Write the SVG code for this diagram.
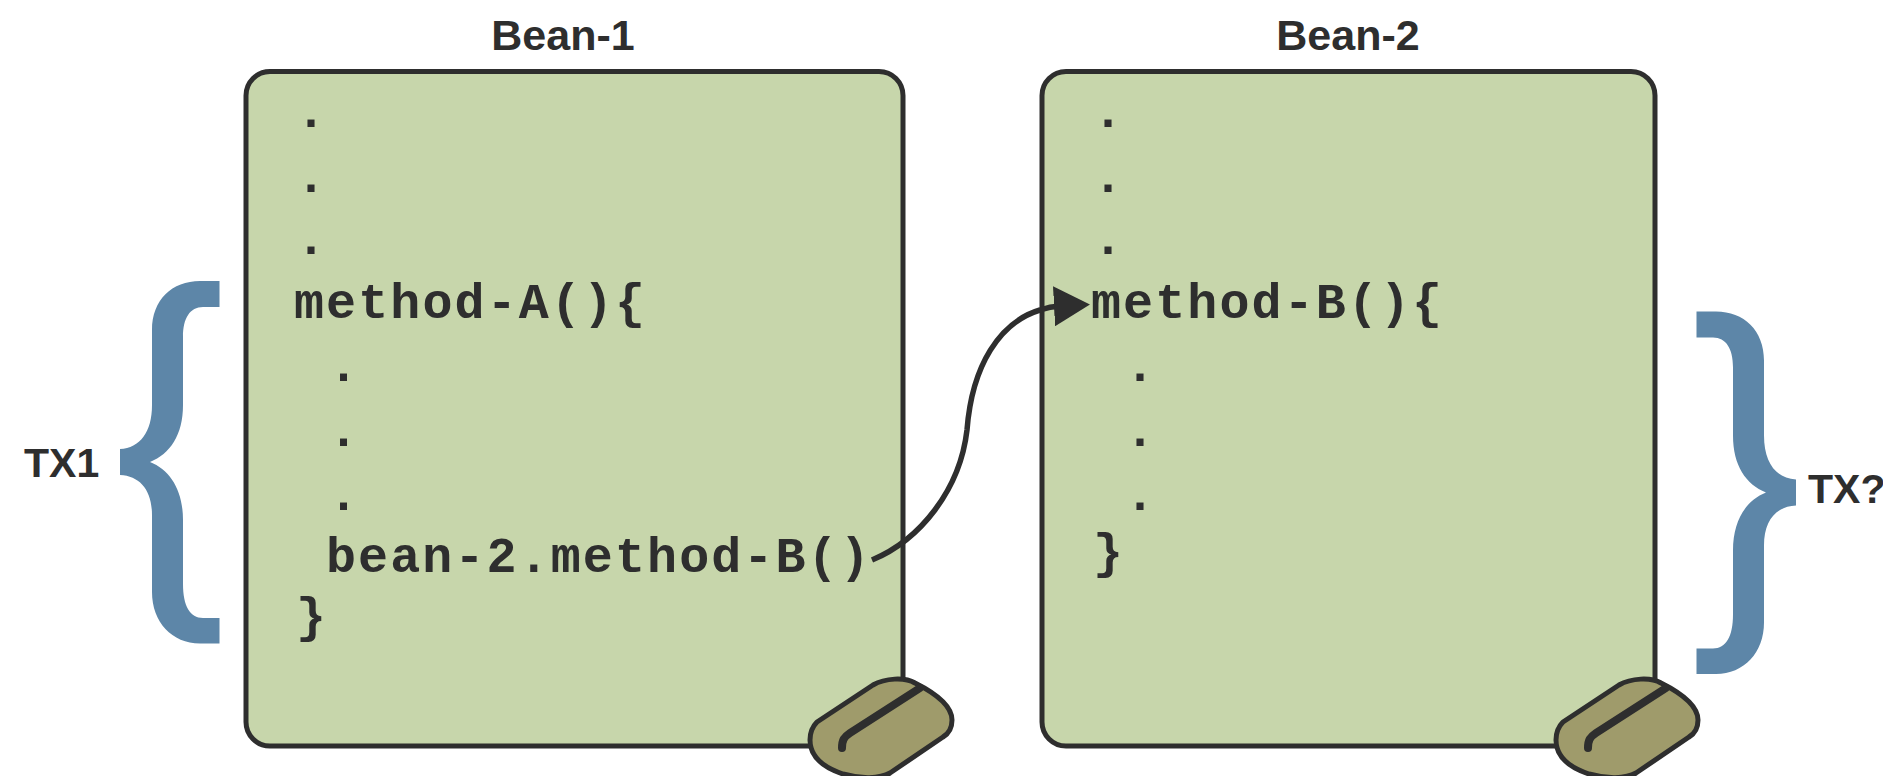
<svg xmlns="http://www.w3.org/2000/svg" width="1883" height="776" viewBox="0 0 1883 776">
<style>
.box{fill:#c7d6ab;stroke:#2e2e2e;stroke-width:5}
.title{font-family:"Liberation Sans",Arial,sans-serif;font-weight:700;font-size:43px;fill:#2e2e2e}
.code{font-family:"Liberation Mono","Courier New",monospace;font-weight:700;font-size:50px;letter-spacing:2.100px;fill:#2e2e2e}
.brace{fill:#5d86a8}
.tab{fill:#9f9b6b;stroke:#2e2e2e;stroke-width:5;stroke-linejoin:round}
.slot{fill:none;stroke:#2e2e2e;stroke-width:8;stroke-linecap:round}
.wire{fill:none;stroke:#2e2e2e;stroke-width:5.500}
</style>
<defs>
<marker id="arrow" markerUnits="userSpaceOnUse" markerWidth="36" markerHeight="40" viewBox="0 0 36 40" refX="6" refY="20" orient="auto">
<polygon points="0,0 36,20 0,40" fill="#2e2e2e"/>
</marker>
<path id="brace-shape" d="M219.500 281H200C172 281 152 300 152 330V405C152 432 140 448 120 449V475C140 476 152 490 152 515V592C152 622 172 643.500 200 643.500H219.500V618H203C190 618 183 606 183 584V520C183 490 170 470 150 462C170 454 183 435 183 405V337C183 318 190 307 203 307H219.500Z"/>
<g id="tab-shape">
<path class="tab" d="M817 722L873 685C885 678 905 677 915 683C935 693 952 705 952 720C952 728 948 734 943 737L890 773C880 779 860 779 843 774C825 768 810 758 810 740C810 733 812 727 817 722Z"/>
<path class="slot" d="M842 748C842 740 844 737 850 733L920 688"/>
</g>
</defs>
<g id="bean-1">
<rect class="box" x="246" y="71.500" width="657" height="674.500" rx="24"/>
<text class="title" x="563" y="50" text-anchor="middle">Bean-1</text>
<text class="code" x="296" y="127">.</text>
<text class="code" x="296" y="192">.</text>
<text class="code" x="296" y="254">.</text>
<text class="code" x="294" y="318">method-A(){</text>
<text class="code" x="328.500" y="381">.</text>
<text class="code" x="328.500" y="446">.</text>
<text class="code" x="328.500" y="510">.</text>
<text class="code" x="326" y="572">bean-2.method-B()</text>
<text class="code" x="296" y="632">}</text>
<use href="#tab-shape"/>
</g>
<g id="bean-2">
<rect class="box" x="1042" y="71.500" width="613" height="674.500" rx="24"/>
<text class="title" x="1348" y="50" text-anchor="middle">Bean-2</text>
<text class="code" x="1093" y="127">.</text>
<text class="code" x="1093" y="192">.</text>
<text class="code" x="1093" y="254">.</text>
<text class="code" x="1091" y="318">method-B(){</text>
<text class="code" x="1125" y="381">.</text>
<text class="code" x="1125" y="446">.</text>
<text class="code" x="1125" y="510">.</text>
<text class="code" x="1093" y="568">}</text>
<use href="#tab-shape" x="746"/>
</g>
<g id="tx1">
<use class="brace" href="#brace-shape"/>
<text class="title" x="24" y="477" style="font-size:41px">TX1</text>
</g>
<g id="tx2">
<use class="brace" href="#brace-shape" transform="translate(1916 30.500) scale(-1 1)"/>
<text class="title" x="1808" y="502.500" style="font-size:41px">TX?</text>
</g>
<g id="connectors">
<path class="wire" d="M872 560C920 540 960 490 967 430C972 365 1000 322 1040 310Q1050 306.500 1060 306" marker-end="url(#arrow)"/>
</g>
</svg>
